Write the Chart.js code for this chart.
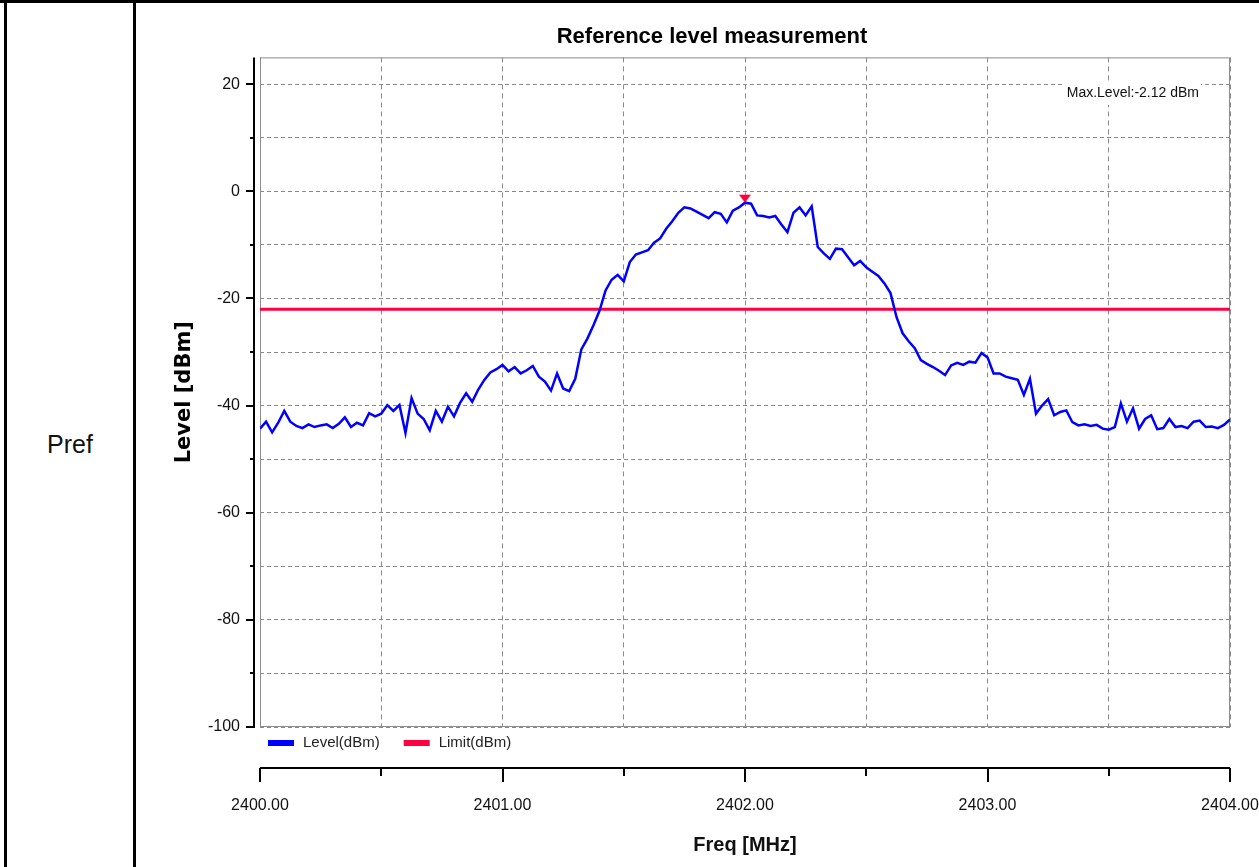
<!DOCTYPE html>
<html>
<head>
<meta charset="utf-8">
<title>Reference level measurement</title>
<script src="https://cdn.jsdelivr.net/npm/chart.js@4.4.1/dist/chart.umd.min.js"></script>
<style>
  html, body { margin: 0; padding: 0; background: #fff; }
  body { width: 1259px; height: 867px; position: relative; overflow: hidden; }
  .rule { position: absolute; background: #000; }
  #pref { position: absolute; left: 7px; width: 126px; top: 424px; height: 40px; line-height: 40px;
          text-align: center; font-family: 'Liberation Sans', Arial, sans-serif; font-size: 25px; color: #111; }
  #wrap { position: absolute; left: 0; top: 0; width: 1259px; height: 867px; }
</style>
</head>
<body>
<div class="rule" style="left:0;top:0;width:1259px;height:3px"></div>
<div class="rule" style="left:4px;top:0;width:3px;height:867px"></div>
<div class="rule" style="left:133px;top:0;width:3px;height:867px"></div>
<div id="pref">Pref</div>
<div id="wrap"><canvas id="chart"></canvas></div>
<script>
const SANS = "'Liberation Sans Narrow', 'Liberation Sans', Arial, sans-serif";

// sweep frequencies (MHz)
const freqMHz = [
  2400.000, 2400.025, 2400.050, 2400.075, 2400.100, 2400.125, 2400.150, 2400.175,
  2400.200, 2400.225, 2400.250, 2400.275, 2400.300, 2400.325, 2400.350, 2400.375,
  2400.400, 2400.425, 2400.450, 2400.475, 2400.500, 2400.525, 2400.550, 2400.575,
  2400.600, 2400.625, 2400.650, 2400.675, 2400.700, 2400.725, 2400.750, 2400.775,
  2400.800, 2400.825, 2400.850, 2400.875, 2400.900, 2400.925, 2400.950, 2400.975,
  2401.000, 2401.025, 2401.050, 2401.075, 2401.100, 2401.125, 2401.150, 2401.175,
  2401.200, 2401.225, 2401.250, 2401.275, 2401.300, 2401.325, 2401.350, 2401.375,
  2401.400, 2401.425, 2401.450, 2401.475, 2401.500, 2401.525, 2401.550, 2401.575,
  2401.600, 2401.625, 2401.650, 2401.675, 2401.700, 2401.725, 2401.750, 2401.775,
  2401.800, 2401.825, 2401.850, 2401.875, 2401.900, 2401.925, 2401.950, 2401.975,
  2402.000, 2402.025, 2402.050, 2402.075, 2402.100, 2402.125, 2402.150, 2402.175,
  2402.200, 2402.225, 2402.250, 2402.275, 2402.300, 2402.325, 2402.350, 2402.375,
  2402.400, 2402.425, 2402.450, 2402.475, 2402.500, 2402.525, 2402.550, 2402.575,
  2402.600, 2402.625, 2402.650, 2402.675, 2402.700, 2402.725, 2402.750, 2402.775,
  2402.800, 2402.825, 2402.850, 2402.875, 2402.900, 2402.925, 2402.950, 2402.975,
  2403.000, 2403.025, 2403.050, 2403.075, 2403.100, 2403.125, 2403.150, 2403.175,
  2403.200, 2403.225, 2403.250, 2403.275, 2403.300, 2403.325, 2403.350, 2403.375,
  2403.400, 2403.425, 2403.450, 2403.475, 2403.500, 2403.525, 2403.550, 2403.575,
  2403.600, 2403.625, 2403.650, 2403.675, 2403.700, 2403.725, 2403.750, 2403.775,
  2403.800, 2403.825, 2403.850, 2403.875, 2403.900, 2403.925, 2403.950, 2403.975,
  2404.000
];

const levelDbm = [
  -44.3, -43.0, -45.0, -43.2, -41.0, -43.0, -43.8, -44.2,
  -43.5, -44.0, -43.7, -43.5, -44.2, -43.4, -42.2, -44.0,
  -43.2, -43.7, -41.4, -42.0, -41.5, -39.9, -41.0, -39.9,
  -45.1, -38.6, -41.5, -42.5, -44.6, -41.0, -43.0, -40.2,
  -42.0, -39.5, -37.7, -39.3, -37.0, -35.2, -33.8, -33.2,
  -32.4, -33.6, -32.8, -34.0, -33.4, -32.6, -34.6, -35.5,
  -37.2, -34.0, -36.8, -37.3, -35.0, -29.5, -27.5, -25.0,
  -22.3, -18.5, -16.5, -15.6, -16.8, -13.2, -11.8, -11.4,
  -11.0, -9.6, -8.8, -7.0, -5.6, -4.0, -3.0, -3.2,
  -3.8, -4.4, -5.0, -3.9, -4.2, -5.8, -3.6, -3.0,
  -2.12, -2.3, -4.5, -4.6, -4.9, -4.6, -6.2, -7.6,
  -4.0, -3.0, -4.5, -2.8, -10.4, -11.6, -12.6, -10.7,
  -10.8, -12.3, -13.8, -13.0, -14.2, -15.0, -15.8, -17.2,
  -19.0, -23.5, -26.5, -28.0, -29.3, -31.5, -32.2, -32.8,
  -33.5, -34.3, -32.5, -32.0, -32.4, -31.8, -32.0, -30.2,
  -31.0, -34.0, -34.0, -34.6, -34.9, -35.2, -38.0, -35.0,
  -41.5, -40.0, -38.8, -41.8, -41.2, -40.9, -43.1, -43.7,
  -43.5, -43.8, -43.6, -44.3, -44.5, -44.0, -39.6, -43.0,
  -40.5, -44.3, -42.5, -41.8, -44.4, -44.2, -42.5, -44.0,
  -43.8, -44.2, -43.0, -42.8, -44.0, -43.9, -44.2, -43.6,
  -42.6
];

const limitFreqMHz = [2400, 2404];
const limitDbm = [-22, -22];

const peakFreqMHz = [2402.00];
const peakDbm = [-2.12];

const freqGridTicks = [2400, 2400.5, 2401, 2401.5, 2402, 2402.5, 2403, 2403.5, 2404];
const levelGridTicks = [-100, -90, -80, -70, -60, -50, -40, -30, -20, -10, 0, 10, 20];

const pairs = (xs, ys) => xs.map((x, i) => ({ x, y: ys[i] }));

function peakMarker() {
  // triangle in the upper half so its tip sits on the data point
  const c = document.createElement('canvas');
  c.width = 14; c.height = 28;
  const g = c.getContext('2d');
  g.fillStyle = '#ff0040';
  g.beginPath();
  g.moveTo(1, 6); g.lineTo(13, 6); g.lineTo(7, 14);
  g.closePath(); g.fill();
  return c;
}

const frameAndAxes = {
  id: 'frameAndAxes',
  beforeDatasetsDraw(chart) {
    const { ctx, chartArea: a } = chart;
    ctx.save();
    ctx.strokeStyle = '#8c8c8c';
    ctx.lineWidth = 1;
    ctx.strokeRect(a.left + 0.5, a.top + 0.5, a.right - a.left - 1, a.bottom - a.top - 1);

    // max level note, top right
    const note = 'Max.Level:' + peakDbm[0].toFixed(2) + ' dBm';
    ctx.font = '14px ' + SANS;
    const w = ctx.measureText(note).width;
    const rx = 1199, cy = 93;
    ctx.fillStyle = '#fff';
    ctx.fillRect(rx - w - 3, cy - 12, w + 5, 24);
    ctx.fillStyle = '#111';
    ctx.textAlign = 'right';
    ctx.textBaseline = 'middle';
    ctx.fillText(note, rx, cy);
    ctx.restore();
  },
  afterDraw(chart) {
    const { ctx, chartArea: a, scales } = chart;
    const x = scales.x, y = scales.y;
    ctx.save();
    ctx.strokeStyle = '#000';
    ctx.lineWidth = 2;

    // detached level axis
    const ax = a.left - 6;
    ctx.beginPath();
    ctx.moveTo(ax, a.top);
    ctx.lineTo(ax, a.bottom + 1);
    levelGridTicks.forEach(v => {
      const py = Math.round(y.getPixelForValue(v));
      const len = v % 20 === 0 ? 8 : 4;
      ctx.moveTo(ax - len, py);
      ctx.lineTo(ax, py);
    });
    ctx.stroke();

    // detached frequency axis
    const ay = a.bottom + 41;
    ctx.beginPath();
    ctx.moveTo(a.left, ay);
    ctx.lineTo(a.right, ay);
    freqGridTicks.forEach(v => {
      const px = Math.round(x.getPixelForValue(v));
      const len = Number.isInteger(v) ? 14 : 8;
      ctx.moveTo(px, ay);
      ctx.lineTo(px, ay + len);
    });
    ctx.stroke();

    // legend strip under the plot
    ctx.font = '15px ' + SANS;
    ctx.textAlign = 'left';
    ctx.textBaseline = 'middle';
    let lx = a.left + 8;
    const ly = a.bottom + 16;
    chart.data.datasets.filter(d => d.label).forEach(d => {
      ctx.fillStyle = d.borderColor;
      ctx.fillRect(lx, ly - 3, 26, 6);
      ctx.fillStyle = '#222';
      ctx.fillText(d.label, lx + 35, ly);
      lx += 35 + ctx.measureText(d.label).width + 24;
    });
    ctx.restore();
  }
};

new Chart(document.getElementById('chart'), {
  type: 'line',
  data: {
    datasets: [
      {
        label: 'Level(dBm)',
        data: pairs(freqMHz, levelDbm),
        borderColor: '#0000ff',
        borderWidth: 2.5,
        pointRadius: 0,
        tension: 0,
        order: 1,
      },
      {
        label: 'Limit(dBm)',
        data: pairs(limitFreqMHz, limitDbm),
        borderColor: '#ff0040',
        borderWidth: 3,
        pointRadius: 0,
        order: 2,
      },
      {
        label: '',
        data: pairs(peakFreqMHz, peakDbm),
        showLine: false,
        pointStyle: peakMarker(),
        pointRadius: 7,
        clip: false,
        order: 0,
      },
    ],
  },
  options: {
    responsive: true,
    maintainAspectRatio: false,
    animation: false,
    layout: { padding: { left: 165, right: 0, top: 0, bottom: 0 } },
    plugins: {
      legend: { display: false },
      tooltip: { enabled: false },
      title: {
        display: true,
        text: 'Reference level measurement',
        color: '#000',
        font: { family: SANS, size: 22, weight: 'bold' },
        padding: { top: 24, bottom: 7 },
      },
    },
    scales: {
      x: {
        type: 'linear',
        min: 2400,
        max: 2404,
        afterBuildTicks: s => { s.ticks = freqGridTicks.map(v => ({ value: v })); },
        afterFit: s => {
          s.height = 140;
          s.paddingLeft = 0;
          s.paddingRight = 29;
        },
        ticks: {
          padding: 69,
          color: '#111',
          font: { family: SANS, size: 16 },
          maxRotation: 0,
          callback: v => (Number.isInteger(v) ? v.toFixed(2) : ''),
        },
        grid: { color: '#8a8a8a', lineWidth: 1, drawTicks: false },
        border: { display: false, dash: [5, 4] },
        title: {
          display: true,
          text: 'Freq [MHz]',
          color: '#111',
          font: { family: SANS, size: 20, weight: 'bold' },
          padding: { top: 0, bottom: 10 },
        },
      },
      y: {
        min: -100,
        max: 25,
        afterBuildTicks: s => { s.ticks = levelGridTicks.map(v => ({ value: v })); },
        afterFit: s => { s.width = 95; },
        ticks: {
          padding: 20,
          color: '#111',
          font: { family: SANS, size: 16 },
          callback: v => (v % 20 === 0 ? String(v) : ''),
        },
        grid: { color: '#8a8a8a', lineWidth: 1, drawTicks: false },
        border: { display: false, dash: [4, 3] },
        title: {
          display: true,
          text: 'Level [dBm]',
          color: '#000',
          font: { family: "'DejaVu Sans', sans-serif", size: 21, weight: 'bold' },
          padding: { top: 7, bottom: 0 },
        },
      },
    },
  },
  plugins: [frameAndAxes],
});
</script>
</body>
</html>
